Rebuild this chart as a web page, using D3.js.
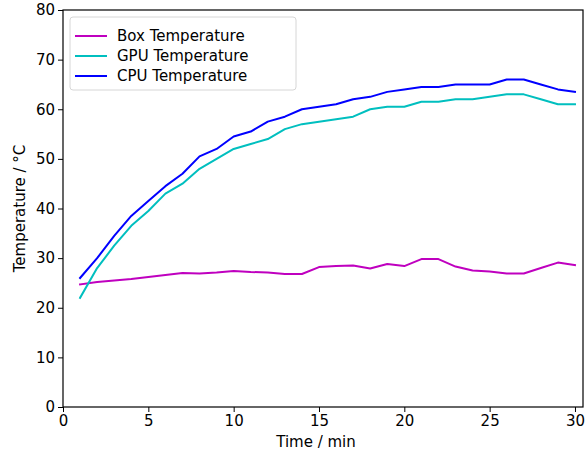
<!DOCTYPE html>
<html><head><meta charset="utf-8">
<script src="https://cdn.jsdelivr.net/npm/d3@7"></script>
<style>
body{margin:0;background:#fff;}
text{font-family:"DejaVu Sans",sans-serif;}
</style></head>
<body>
<svg id="chart" width="585" height="454"></svg>
<script>
const time = d3.range(1, 31);
const boxTemp = [24.7,25.2,25.5,25.8,26.2,26.6,27.0,26.9,27.1,27.4,27.2,27.1,26.8,26.8,28.2,28.4,28.5,27.9,28.8,28.4,29.8,29.8,28.3,27.5,27.3,26.9,26.9,28.0,29.1,28.6];
const gpuTemp = [22,28,32.5,36.5,39.5,43,45,48,50,52,53,54,56,57,57.5,58,58.5,60,60.5,60.5,61.5,61.5,62,62,62.5,63,63,62,61,61];
const cpuTemp = [26,30,34.5,38.5,41.5,44.5,47,50.5,52,54.5,55.5,57.5,58.5,60,60.5,61,62,62.5,63.5,64,64.5,64.5,65,65,65,66,66,65,64,63.5];
const xTicks = [0,5,10,15,20,25,30];
const yTicks = [0,10,20,30,40,50,60,70,80];
const seriesNames = ["Box Temperature","GPU Temperature","CPU Temperature"];
const seriesColors = ["#bf00bf","#00bfbf","#0000ff"];
const seriesValues = [boxTemp, gpuTemp, cpuTemp];

const svg = d3.select("#chart");
const L = 63, R = 583, T = 10, B = 407;
const x = d3.scaleLinear().domain([0, 30.47]).range([L, R]);
const y = d3.scaleLinear().domain([0, 80]).range([B, T]);

// lines
const line = d3.line().x((d,i)=>x(time[i])).y(d=>y(d));
seriesValues.forEach((vals, k) => {
  svg.append("path").datum(vals).attr("d", line)
    .attr("fill","none").attr("stroke",seriesColors[k]).attr("stroke-width",2)
    .attr("stroke-linejoin","round").attr("stroke-linecap","square");
});

// axes
const xAxis = d3.axisBottom(x).tickValues(xTicks).tickSize(5).tickPadding(3).tickFormat(d3.format("d"));
const yAxis = d3.axisLeft(y).tickValues(yTicks).tickSize(5).tickPadding(3).tickFormat(d3.format("d"));
const gx = svg.append("g").attr("transform",`translate(0,${B})`).call(xAxis);
const gy = svg.append("g").attr("transform",`translate(${L},0)`).call(yAxis);
[gx, gy].forEach(g => {
  g.select(".domain").remove();
  g.selectAll(".tick line").attr("stroke","#000").attr("stroke-width",1);
  g.selectAll(".tick text").attr("fill","#000").style("font-size","15px").style("font-family","DejaVu Sans");
});

// spines
svg.append("rect").attr("x",L).attr("y",T).attr("width",R-L).attr("height",B-T)
  .attr("fill","none").attr("stroke","#000").attr("stroke-width",1.2);

// labels
svg.append("text").attr("x",(L+575)/2-3).attr("y",447).attr("text-anchor","middle")
  .style("font-size","15px").text("Time / min");
svg.append("text").attr("transform",`translate(25,${(T+B)/2}) rotate(-90)`).attr("text-anchor","middle")
  .style("font-size","15px").text("Temperature / °C");

// legend
const lg = svg.append("g");
lg.append("rect").attr("x",70).attr("y",17).attr("width",226).attr("height",73).attr("rx",3)
  .attr("fill","#fff").attr("fill-opacity",0.8).attr("stroke","#d6d6d6").attr("stroke-width",1);
seriesNames.forEach((name,k) => {
  const yy = 36 + k*20;
  lg.append("line").attr("x1",75).attr("x2",107).attr("y1",yy).attr("y2",yy)
    .attr("stroke",seriesColors[k]).attr("stroke-width",2);
  lg.append("text").attr("x",117).attr("y",yy+5).style("font-size","15px").text(name);
});
</script>
</body></html>
